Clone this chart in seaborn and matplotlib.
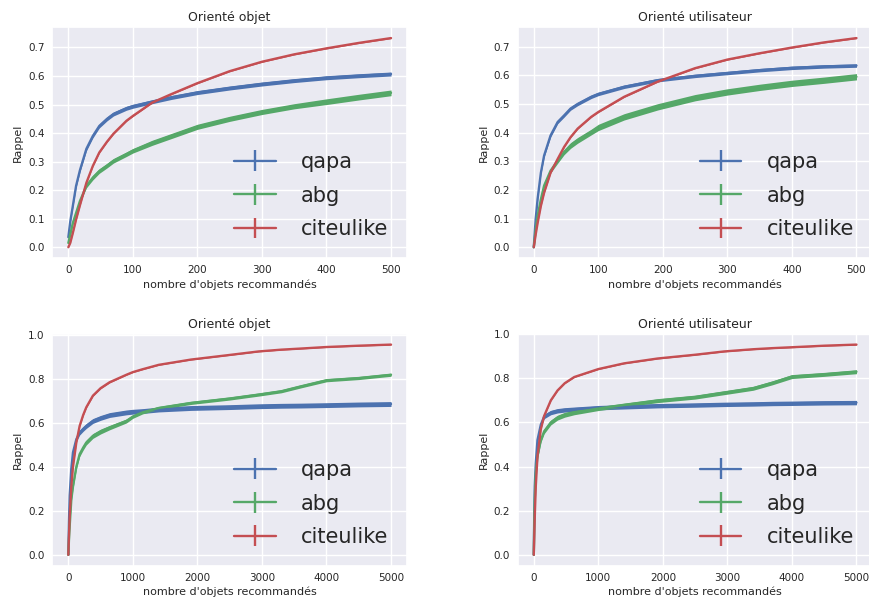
import numpy as np
import seaborn as sns
import matplotlib.pyplot as plt

plt.switch_backend('Agg')

names = ["qapa", "abg", "citeulike"]
colors = ["#4C72B0", "#55A868", "#C44E52"]

# --- Orienté objet, N up to 500
x_obj_500 = [0, 3, 7, 12, 18, 28, 38, 48, 60, 70, 90, 100, 130, 160, 200, 250, 300, 350, 400, 450, 500]
obj_500 = {
    "qapa":      [0.035, 0.09, 0.145, 0.215, 0.27, 0.345, 0.39, 0.425, 0.45, 0.467, 0.487, 0.494, 0.51, 0.525, 0.542, 0.558, 0.572, 0.584, 0.594, 0.601, 0.607],
    "abg":       [0.015, 0.045, 0.085, 0.12, 0.162, 0.215, 0.244, 0.267, 0.286, 0.303, 0.326, 0.338, 0.366, 0.39, 0.422, 0.45, 0.474, 0.494, 0.51, 0.526, 0.541],
    "citeulike": [0.0, 0.015, 0.05, 0.097, 0.147, 0.226, 0.285, 0.332, 0.37, 0.398, 0.443, 0.46, 0.507, 0.537, 0.575, 0.617, 0.65, 0.676, 0.697, 0.716, 0.733],
}
obj_500_err = {
    "qapa":      [0.002, 0.004, 0.005, 0.006, 0.006, 0.007, 0.007, 0.007, 0.007, 0.007, 0.007, 0.007, 0.007, 0.007, 0.007, 0.007, 0.007, 0.007, 0.007, 0.007, 0.007],
    "abg":       [0.002, 0.003, 0.004, 0.005, 0.006, 0.007, 0.008, 0.008, 0.008, 0.008, 0.008, 0.008, 0.009, 0.009, 0.009, 0.009, 0.009, 0.009, 0.010, 0.010, 0.010],
    "citeulike": [0.001, 0.001, 0.001, 0.002, 0.002, 0.002, 0.002, 0.002, 0.002, 0.002, 0.002, 0.002, 0.002, 0.002, 0.002, 0.002, 0.002, 0.002, 0.002, 0.002, 0.002],
}

# --- Orienté utilisateur, N up to 500
x_usr_500 = [0, 3, 6, 11, 16, 26, 37, 47, 57, 68, 89, 100, 140, 192, 250, 300, 350, 400, 450, 500]
usr_500 = {
    "qapa":      [0.0, 0.10, 0.17, 0.26, 0.32, 0.39, 0.437, 0.46, 0.484, 0.50, 0.525, 0.535, 0.56, 0.583, 0.598, 0.608, 0.618, 0.626, 0.631, 0.634],
    "abg":       [0.0, 0.06, 0.11, 0.167, 0.215, 0.267, 0.302, 0.332, 0.355, 0.373, 0.402, 0.418, 0.455, 0.49, 0.522, 0.542, 0.558, 0.572, 0.583, 0.595],
    "citeulike": [0.0, 0.045, 0.085, 0.144, 0.19, 0.26, 0.308, 0.35, 0.384, 0.414, 0.455, 0.472, 0.525, 0.578, 0.625, 0.655, 0.677, 0.697, 0.715, 0.730],
}
usr_500_err = {
    "qapa":      [0.001, 0.003, 0.004, 0.005, 0.006, 0.006, 0.006, 0.006, 0.006, 0.006, 0.006, 0.006, 0.006, 0.006, 0.006, 0.006, 0.006, 0.006, 0.006, 0.006],
    "abg":       [0.001, 0.003, 0.004, 0.006, 0.007, 0.008, 0.009, 0.009, 0.010, 0.010, 0.010, 0.011, 0.011, 0.011, 0.011, 0.011, 0.011, 0.011, 0.011, 0.011],
    "citeulike": [0.001, 0.001, 0.001, 0.002, 0.002, 0.002, 0.002, 0.002, 0.002, 0.002, 0.002, 0.002, 0.002, 0.002, 0.002, 0.002, 0.002, 0.002, 0.002, 0.002],
}

# --- Orienté objet, N up to 5000
x_obj_5000 = [0, 10, 21, 46, 72, 124, 175, 230, 278, 381, 500, 640, 900, 1000, 1150, 1400, 1900, 2500, 2950, 3300, 3600, 4000, 4500, 5000]
obj_5000 = {
    "qapa":      [0.0, 0.15, 0.27, 0.39, 0.465, 0.525, 0.555, 0.572, 0.585, 0.608, 0.622, 0.635, 0.647, 0.65, 0.653, 0.66, 0.667, 0.671, 0.675, 0.677, 0.678, 0.68, 0.683, 0.685],
    "abg":       [0.0, 0.07, 0.13, 0.25, 0.31, 0.40, 0.457, 0.487, 0.51, 0.54, 0.56, 0.578, 0.608, 0.628, 0.647, 0.667, 0.69, 0.71, 0.728, 0.743, 0.765, 0.793, 0.803, 0.818],
    "citeulike": [0.0, 0.09, 0.175, 0.31, 0.40, 0.51, 0.585, 0.635, 0.67, 0.723, 0.757, 0.784, 0.818, 0.83, 0.843, 0.863, 0.887, 0.908, 0.924, 0.932, 0.937, 0.944, 0.95, 0.955],
}
obj_5000_err = {
    "qapa":      [0.002, 0.006, 0.008, 0.010, 0.011, 0.011, 0.011, 0.011, 0.011, 0.011, 0.011, 0.011, 0.011, 0.011, 0.011, 0.011, 0.011, 0.011, 0.011, 0.011, 0.011, 0.011, 0.011, 0.011],
    "abg":       [0.002, 0.005, 0.007, 0.009, 0.010, 0.011, 0.011, 0.011, 0.011, 0.011, 0.011, 0.010, 0.009, 0.008, 0.007, 0.007, 0.007, 0.007, 0.007, 0.007, 0.007, 0.007, 0.007, 0.007],
    "citeulike": [0.001, 0.002, 0.003, 0.003, 0.003, 0.003, 0.003, 0.003, 0.003, 0.003, 0.003, 0.003, 0.002, 0.002, 0.002, 0.002, 0.002, 0.002, 0.002, 0.002, 0.002, 0.002, 0.002, 0.002],
}

# --- Orienté utilisateur, N up to 5000
x_usr_5000 = [0, 8, 15, 31, 57, 109, 161, 264, 368, 480, 627, 1000, 1400, 1920, 2500, 2950, 3400, 3700, 4000, 4500, 5000]
usr_5000 = {
    "qapa":      [0.0, 0.20, 0.31, 0.415, 0.52, 0.59, 0.627, 0.645, 0.653, 0.657, 0.66, 0.667, 0.671, 0.676, 0.679, 0.682, 0.684, 0.686, 0.687, 0.689, 0.690],
    "abg":       [0.0, 0.15, 0.25, 0.37, 0.446, 0.52, 0.56, 0.60, 0.622, 0.635, 0.645, 0.663, 0.679, 0.699, 0.715, 0.735, 0.755, 0.78, 0.808, 0.818, 0.830],
    "citeulike": [0.0, 0.09, 0.17, 0.31, 0.446, 0.569, 0.63, 0.70, 0.745, 0.778, 0.806, 0.842, 0.868, 0.89, 0.907, 0.922, 0.932, 0.937, 0.941, 0.948, 0.953],
}
usr_5000_err = {
    "qapa":      [0.002, 0.006, 0.008, 0.010, 0.010, 0.010, 0.010, 0.010, 0.010, 0.010, 0.010, 0.010, 0.010, 0.010, 0.010, 0.010, 0.010, 0.010, 0.010, 0.010, 0.010],
    "abg":       [0.002, 0.006, 0.008, 0.010, 0.011, 0.011, 0.011, 0.011, 0.011, 0.011, 0.010, 0.009, 0.009, 0.009, 0.009, 0.009, 0.009, 0.009, 0.009, 0.009, 0.009],
    "citeulike": [0.001, 0.002, 0.003, 0.003, 0.003, 0.003, 0.002, 0.002, 0.002, 0.002, 0.002, 0.002, 0.002, 0.002, 0.002, 0.002, 0.002, 0.002, 0.002, 0.002, 0.002],
}

panels = [
    ("Orienté objet", x_obj_500, obj_500, obj_500_err),
    ("Orienté utilisateur", x_usr_500, usr_500, usr_500_err),
    ("Orienté objet", x_obj_5000, obj_5000, obj_5000_err),
    ("Orienté utilisateur", x_usr_5000, usr_5000, usr_5000_err),
]

# axes boxes in figure fraction [left, bottom, width, height]
boxes = [
    [0.060, 0.570, 0.408, 0.385],
    [0.595, 0.570, 0.408, 0.385],
    [0.060, 0.057, 0.408, 0.387],
    [0.595, 0.057, 0.408, 0.387],
]

sns.set_theme(style="darkgrid")
plt.rcParams['font.family'] = ['DejaVu Sans']

fig = plt.figure(figsize=(8.7, 6), dpi=100)

for (title, xs, vals, errs), box in zip(panels, boxes):
    ax = fig.add_axes(box)
    containers = []
    for name, c in zip(names, colors):
        y = np.array(vals[name])
        e = np.array(errs[name])
        cont = ax.errorbar(xs, y, yerr=e, color=c, lw=1.7, elinewidth=1.7, label=name)
        containers.append(cont)
        ax.fill_between(xs, y - e, y + e, color=c, lw=0)
    ax.set_title(title, fontsize=9, color="#262626", pad=4)
    ax.set_xlabel("nombre d'objets recommandés", fontsize=8, color="#262626", labelpad=3)
    ax.set_ylabel("Rappel", fontsize=8, color="#262626", labelpad=3.5)
    ax.tick_params(axis="x", labelsize=7.5, colors="#262626", length=0, pad=5)
    ax.tick_params(axis="y", labelsize=7.5, colors="#262626", length=0, pad=5.5)
    ax.legend(loc="lower right", fontsize=15, frameon=False,
              handletextpad=1.2, labelspacing=0.65)
    # the band already shows the spread; keep the bars only in the legend
    for cont in containers:
        for bars in cont[2]:
            bars.set_visible(False)

fig.savefig("out.png", dpi=100)
